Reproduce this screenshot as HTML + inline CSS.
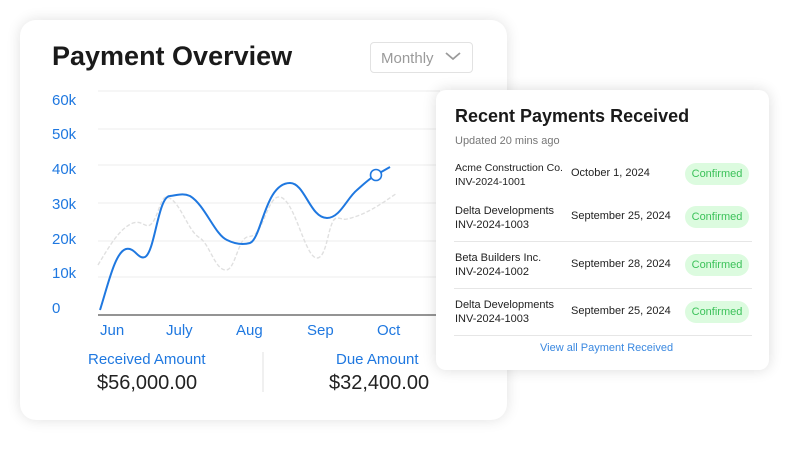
<!DOCTYPE html><html><head><style>
body{margin:0;width:799px;height:450px;background:#fff;font-family:"Liberation Sans",sans-serif;position:relative;overflow:hidden}
.c1{position:absolute;left:20px;top:20px;width:487px;height:400px;background:#fff;border-radius:16px;box-shadow:0 0 14px rgba(0,0,0,.12)}
.c2{position:absolute;left:436px;top:90px;width:333px;height:280px;background:#fff;border-radius:10px;box-shadow:0 0 14px rgba(0,0,0,.14)}
.a{position:absolute;white-space:nowrap}
.b{color:#1f78e0}
.p{position:absolute;left:249px;width:64px;height:22px;border-radius:11px;background:#dcfbdf;color:#3cc25a;font-size:11px;text-align:center;line-height:22px}
.s{position:absolute;left:18px;width:298px;border-top:1px solid #e6e6e6}
</style></head><body>
<div class="c1"></div>
<div class="a" style="left:52px;top:41px;font-size:27px;font-weight:bold;color:#1a1a1a">Payment Overview</div>
<div class="a" style="left:370px;top:42px;width:103px;height:31px;border:1px solid #e2e2e2;border-radius:4px;box-sizing:border-box"></div>
<div class="a" style="left:381px;top:50px;font-size:15px;color:#9a9a9a">Monthly</div>
<svg class="a" style="left:0;top:0" width="799" height="450">
<g stroke="#ececec" stroke-width="1"><line x1="98" x2="440" y1="91" y2="91"/><line x1="98" x2="440" y1="129" y2="129"/><line x1="98" x2="440" y1="165" y2="165"/><line x1="98" x2="440" y1="203" y2="203"/><line x1="98" x2="440" y1="241" y2="241"/><line x1="98" x2="440" y1="277" y2="277"/></g>
<line x1="98" x2="440" y1="315" y2="315" stroke="#555" stroke-width="1.2"/>
<polyline points="446,53 453,59 460,53" fill="none" stroke="#9a9a9a" stroke-width="1.8"/>
<path d="M98,265 C110,245 120,228 133,223 C142,220 145,228 150,225 C158,220 160,196 167,197 C180,200 188,232 200,238 C210,245 215,270 226,270 C235,270 238,240 247,237 C252,236 254,236 257,232 C265,222 270,195 280,197 C295,200 305,258 317,258 C328,258 328,218 337,218 C342,218 342,220 347,219 C365,215 380,205 397,193" fill="none" stroke="#e0e0e0" stroke-width="1.4" stroke-dasharray="4,2"/>
<path d="M100,310 C108,285 115,252 126,249 C135,247 138,260 145,257 C155,252 158,196 170,196 C178,195 183,193 190,196 C205,205 215,235 227,240 C235,244 243,245 250,243 C262,238 265,183 290,183 C305,183 310,218 327,218 C340,218 347,198 357,190 C365,183 370,178 376,175 L390,167" fill="none" stroke="#1f78e0" stroke-width="2"/>
<circle cx="376" cy="175" r="5.5" fill="#fff" stroke="#1f78e0" stroke-width="1.6"/>
<line x1="263" x2="263" y1="352" y2="392" stroke="#e2e2e2"/>
</svg>
<div class="a b" style="left:52px;top:92px;font-size:15px;line-height:18px">60k</div>
<div class="a b" style="left:52px;top:126px;font-size:15px;line-height:18px">50k</div>
<div class="a b" style="left:52px;top:161px;font-size:15px;line-height:18px">40k</div>
<div class="a b" style="left:52px;top:196px;font-size:15px;line-height:18px">30k</div>
<div class="a b" style="left:52px;top:231px;font-size:15px;line-height:18px">20k</div>
<div class="a b" style="left:52px;top:265px;font-size:15px;line-height:18px">10k</div>
<div class="a b" style="left:52px;top:300px;font-size:15px;line-height:18px">0</div>
<div class="a b" style="left:100px;top:322px;font-size:15px;line-height:18px">Jun</div>
<div class="a b" style="left:166px;top:322px;font-size:15px;line-height:18px">July</div>
<div class="a b" style="left:236px;top:322px;font-size:15px;line-height:18px">Aug</div>
<div class="a b" style="left:307px;top:322px;font-size:15px;line-height:18px">Sep</div>
<div class="a b" style="left:377px;top:322px;font-size:15px;line-height:18px">Oct</div>
<div class="a b" style="left:88px;top:351px;font-size:15px;line-height:18px">Received Amount</div>
<div class="a" style="left:97px;top:371px;font-size:20px;line-height:24px;color:#222">$56,000.00</div>
<div class="a b" style="left:336px;top:351px;font-size:15px;line-height:18px">Due Amount</div>
<div class="a" style="left:329px;top:371px;font-size:20px;line-height:24px;color:#222">$32,400.00</div>
<div class="c2">
<div class="a" style="left:19px;top:16px;font-size:18px;font-weight:bold;color:#1a1a1a">Recent Payments Received</div>
<div class="a" style="left:19px;top:45px;font-size:11px;color:#777">Updated 20 mins ago</div>
<div class="a" style="left:19px;top:71px;font-size:10.5px;line-height:14px;color:#222">Acme Construction Co.<br>INV-2024-1001</div>
<div class="a" style="left:135px;top:77px;font-size:11px;color:#222">October 1, 2024</div>
<div class="p" style="top:73px">Confirmed</div>
<div class="a" style="left:19px;top:114px;font-size:11px;line-height:14px;color:#222">Delta Developments<br>INV-2024-1003</div>
<div class="a" style="left:135px;top:120px;font-size:11px;color:#222">September 25, 2024</div>
<div class="p" style="top:116px">Confirmed</div>
<div class="s" style="top:151px"></div>
<div class="a" style="left:19px;top:161px;font-size:11px;line-height:14px;color:#222">Beta Builders Inc.<br>INV-2024-1002</div>
<div class="a" style="left:135px;top:168px;font-size:11px;color:#222">September 28, 2024</div>
<div class="p" style="top:164px">Confirmed</div>
<div class="s" style="top:198px"></div>
<div class="a" style="left:19px;top:208px;font-size:11px;line-height:14px;color:#222">Delta Developments<br>INV-2024-1003</div>
<div class="a" style="left:135px;top:215px;font-size:11px;color:#222">September 25, 2024</div>
<div class="p" style="top:211px">Confirmed</div>
<div class="s" style="top:245px"></div>
<div class="a b" style="left:104px;top:252px;font-size:11px;color:#3a88e0">View all Payment Received</div>
</div>
</body></html>
